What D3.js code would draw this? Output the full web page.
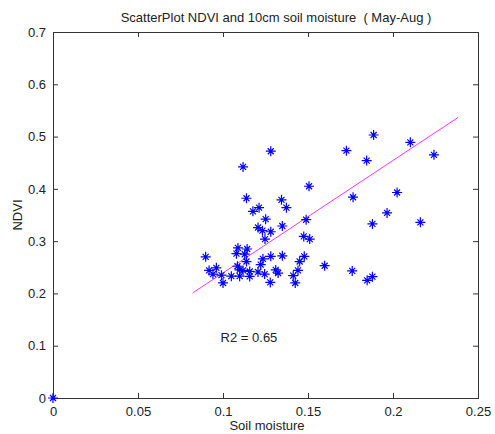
<!DOCTYPE html>
<html>
<head>
<meta charset="utf-8">
<script src="https://cdn.jsdelivr.net/npm/d3@7"></script>
<style>
body { margin: 0; background: #fff; }
text { font-family: "Liberation Sans", Arial, sans-serif; fill: #222; }
</style>
</head>
<body>
<div id="bd"></div>
<script>
// soil moisture (x) and NDVI (y)
var soilMoisture = [
    0.1281, 0.1118, 0.1506, 0.1138, 0.1344, 0.1373, 0.1212, 0.1176, 0.1251, 0.1489,
    0.1349, 0.1206, 0.1232, 0.1281, 0.1475, 0.1510, 0.1247, 0.1088, 0.1142, 0.1079,
    0.1128, 0.0898, 0.1281, 0.1349, 0.1478, 0.1138, 0.1235, 0.1222, 0.1451, 0.0918,
    0.0961, 0.1085, 0.1098, 0.1118, 0.1157, 0.1206, 0.1245, 0.1310, 0.1324, 0.1441,
    0.1598, 0.0941, 0.0991, 0.1049, 0.1098, 0.1413, 0.1000, 0.1278, 0.1425, 0.1886,
    0.2102, 0.1726, 0.2241, 0.1845, 0.1765, 0.2024, 0.1965, 0.1879, 0.2161, 0.1760,
    0.1848, 0.1879, 0.1157, 0
];
var ndvi = [
    0.472, 0.442, 0.405, 0.382, 0.379, 0.364, 0.364, 0.357, 0.342, 0.341,
    0.329, 0.326, 0.320, 0.318, 0.309, 0.304, 0.304, 0.287, 0.285, 0.276,
    0.275, 0.270, 0.271, 0.272, 0.271, 0.261, 0.266, 0.255, 0.261, 0.244,
    0.249, 0.252, 0.245, 0.244, 0.242, 0.241, 0.237, 0.245, 0.239, 0.244,
    0.253, 0.237, 0.235, 0.233, 0.233, 0.234, 0.220, 0.221, 0.220, 0.503,
    0.489, 0.473, 0.465, 0.454, 0.384, 0.393, 0.354, 0.333, 0.336, 0.243,
    0.225, 0.232, 0.2325, 0
];
// fitted line
var fitSlope = 2.15, fitIntercept = 0.0243;
var fitRange = [0.0822, 0.2382];
var r2Label = "R2 = 0.65";
var r2Pos = [0.0986, 0.115];

var xTicks = [0, 0.05, 0.1, 0.15, 0.2, 0.25];
var yTicks = [0, 0.1, 0.2, 0.3, 0.4, 0.5, 0.6, 0.7];

var margin = {top: 32, right: 17, bottom: 36, left: 53},
    width = 495,
    height = 434,
    innerW = width - margin.left - margin.right,
    innerH = height - margin.top - margin.bottom;

var svg = d3.select("#bd").append("svg")
    .attr("width", width)
    .attr("height", height);

var g = svg.append("g")
    .attr("transform", "translate(" + margin.left + "," + margin.top + ")");

var x = d3.scaleLinear().domain([0, 0.25]).range([0, innerW]);
var y = d3.scaleLinear().domain([0, 0.7]).range([innerH, 0]);

var fmt = function (d) { return d === 0 ? "0" : String(d); };

// axes, ticks pointing inward like matlab
var axisColor = "#333";
function styleAxis(sel) {
    sel.select(".domain").remove();
    sel.selectAll("line").attr("stroke", axisColor);
    sel.selectAll("text").style("font-size", "13px").attr("fill", "#222");
}

g.append("g")
    .attr("transform", "translate(0," + innerH + ")")
    .call(d3.axisBottom(x).tickValues(xTicks).tickFormat(fmt).tickSizeInner(-5).tickPadding(9))
    .call(styleAxis);
g.append("g")
    .call(d3.axisTop(x).tickValues(xTicks).tickFormat("").tickSizeInner(-5))
    .call(styleAxis);
g.append("g")
    .call(d3.axisLeft(y).tickValues(yTicks).tickFormat(fmt).tickSizeInner(-5).tickPadding(7))
    .call(styleAxis);
g.append("g")
    .attr("transform", "translate(" + innerW + ",0)")
    .call(d3.axisRight(y).tickValues(yTicks).tickFormat("").tickSizeInner(-5))
    .call(styleAxis);

g.append("rect")
    .attr("x", 0.5).attr("y", 0.5)
    .attr("width", innerW).attr("height", innerH)
    .attr("fill", "none")
    .attr("stroke", axisColor)
    .attr("stroke-width", 1);

// regression line
g.append("line")
    .attr("x1", x(fitRange[0]))
    .attr("y1", y(fitIntercept + fitSlope * fitRange[0]))
    .attr("x2", x(fitRange[1]))
    .attr("y2", y(fitIntercept + fitSlope * fitRange[1]))
    .attr("stroke", "#ff33ff")
    .attr("stroke-width", 1);

// asterisk markers
var starPath = "M-5,0L5,0M0,-5L0,5M-3,-3L3,3M-3,3L3,-3";
g.append("g")
    .selectAll("path")
    .data(d3.range(soilMoisture.length))
    .enter()
    .append("path")
    .attr("transform", function (i) {
        return "translate(" + x(soilMoisture[i]) + "," + y(ndvi[i]) + ")";
    })
    .attr("d", starPath)
    .attr("fill", "none")
    .attr("stroke", "#0000ff")
    .attr("stroke-width", 1.2);

g.append("text")
    .attr("x", x(r2Pos[0]))
    .attr("y", y(r2Pos[1]))
    .attr("dy", "0.35em")
    .style("font-size", "13px")
    .text(r2Label);

svg.append("text")
    .attr("x", 276)
    .attr("y", 22)
    .attr("text-anchor", "middle")
    .style("font-size", "13px")
    .style("white-space", "pre")
    .text("ScatterPlot NDVI and 10cm soil moisture  ( May-Aug )");

svg.append("text")
    .attr("x", 267)
    .attr("y", 430)
    .attr("text-anchor", "middle")
    .style("font-size", "13px")
    .text("Soil moisture");

svg.append("text")
    .attr("transform", "translate(22," + (margin.top + innerH / 2) + ") rotate(-90)")
    .attr("text-anchor", "middle")
    .style("font-size", "13px")
    .text("NDVI");
</script>
</body>
</html>
